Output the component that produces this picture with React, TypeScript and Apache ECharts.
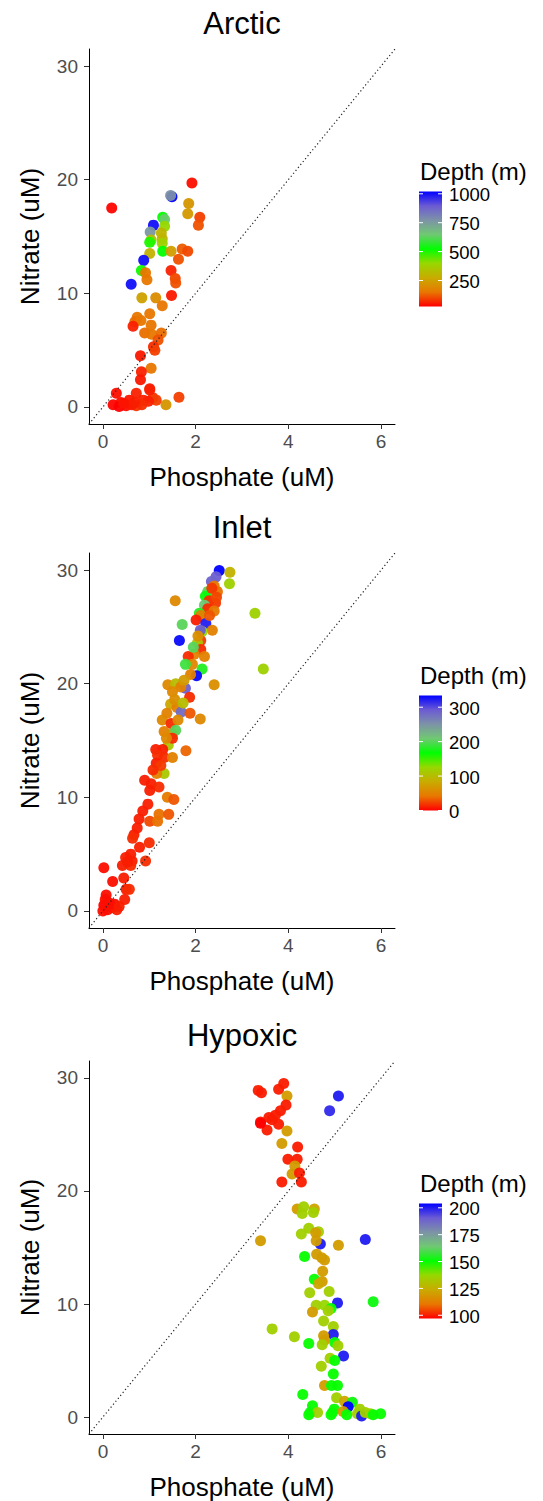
import React, { useEffect, useRef } from "react";
import * as echarts from "echarts";

// ---------------- DATA ----------------
const panelTitles = ["Arctic", "Inlet", "Hypoxic"];

const arcticPhosphate = [1.92, 0.19, 1.49, 1.46, 1.85, 1.83, 2.09, 2.06, 1.29, 1.33, 1.09, 1.02, 1.33, 1.26, 1.04, 1.01, 1.28, 1.28, 1.29, 1.47, 1.71, 1.83, 1.63, 1.01, 0.88, 0.83, 0.92, 0.95, 1.47, 1.56, 1.57, 0.61, 0.84, 1.14, 1.48, 1.28, 1.01, 0.74, 0.69, 0.82, 1.04, 0.65, 0.9, 1.05, 1.26, 1.19, 1.09, 1.12, 0.81, 1.04, 0.83, 0.81, 1.01, 0.29, 0.72, 1.64, 1.08, 1.36, 0.22, 0.39, 0.57, 0.72, 0.87, 1.15, 0.98, 0.5, 0.35, 0.62, 0.84, 1.01, 0.45, 0.68];
const arcticNitrate = [19.7, 17.5, 18.5, 18.6, 17.9, 17.0, 16.7, 16.0, 16.7, 16.5, 16.0, 15.4, 15.9, 15.3, 14.7, 14.5, 14.8, 14.4, 13.7, 13.7, 13.9, 13.7, 13.0, 13.5, 12.9, 12.0, 11.8, 11.2, 12.0, 11.3, 10.9, 10.8, 9.6, 9.6, 9.8, 8.9, 8.2, 7.9, 7.5, 7.6, 7.2, 7.1, 6.5, 6.4, 6.5, 5.9, 5.3, 5.0, 4.5, 3.4, 3.1, 2.4, 1.6, 1.2, 1.2, 0.85, 0.8, 0.2, 0.2, 0.4, 0.6, 0.1, 0.6, 0.6, 0.5, 0.1, 0.05, 0.2, 0.2, 1.5, 0.3, 0.4];
const arcticDepth = [40, 30, 1020, 780, 220, 230, 90, 110, 520, 640, 1000, 760, 400, 300, 330, 500, 300, 380, 520, 240, 120, 100, 110, 290, 1000, 510, 150, 150, 60, 100, 110, 1000, 250, 200, 50, 150, 150, 150, 140, 150, 150, 60, 140, 150, 140, 110, 70, 90, 50, 150, 60, 50, 50, 40, 60, 90, 80, 220, 30, 40, 50, 80, 60, 90, 60, 40, 25, 50, 70, 60, 45, 55];

const inletPhosphate = [2.51, 2.74, 2.73, 2.44, 2.34, 2.26, 2.4, 2.47, 2.21, 1.56, 2.29, 2.43, 2.19, 2.26, 3.28, 2.4, 2.08, 2.11, 2.01, 2.22, 1.71, 2.36, 2.14, 2.1, 1.65, 2.11, 2.04, 2.11, 1.97, 2.19, 3.46, 1.84, 1.93, 1.78, 2.14, 2.02, 1.89, 2.4, 1.4, 1.57, 1.78, 1.68, 1.87, 1.5, 1.46, 1.6, 1.69, 1.88, 2.1, 1.38, 1.28, 1.47, 1.62, 1.32, 1.5, 1.57, 1.41, 1.5, 1.29, 1.14, 1.79, 1.18, 1.32, 1.5, 1.15, 1.32, 1.16, 0.9, 1.04, 1.21, 1.01, 1.39, 1.53, 0.97, 0.86, 1.21, 1.42, 1.01, 1.18, 0.78, 0.74, 0.67, 0.64, 1.0, 0.79, 0.6, 0.49, 0.63, 0.6, 0.53, 0.92, 0.42, 0.02, 0.45, 0.21, 0.5, 0.57, 0.47, 0.07, 0.14, 0.02, 0.1, 0.2, 0.3, 0.25, 0.0, 0.35, 0.05, 2.35, 2.45, 2.3, 2.05, 1.95, 1.75, 1.55, 1.73, 1.37, 1.25, 1.08];
const inletNitrate = [29.95, 29.8, 28.8, 29.4, 29.0, 28.1, 28.6, 28.1, 27.7, 27.3, 27.3, 27.1, 26.9, 26.6, 26.2, 26.4, 26.2, 26.0, 25.6, 25.3, 25.2, 24.7, 24.6, 24.7, 23.8, 23.8, 23.6, 23.0, 22.6, 22.4, 21.3, 22.4, 21.7, 21.7, 21.3, 20.7, 20.8, 19.9, 19.9, 20.0, 19.6, 19.7, 18.8, 19.3, 18.2, 17.9, 17.5, 17.4, 16.9, 17.4, 16.8, 16.5, 16.8, 15.8, 15.6, 15.9, 14.6, 15.2, 14.2, 14.2, 14.1, 13.7, 13.5, 13.5, 13.0, 12.1, 12.1, 11.5, 11.2, 10.9, 10.6, 10.0, 9.8, 9.4, 8.8, 8.5, 8.5, 7.9, 7.9, 8.1, 7.3, 6.7, 6.4, 6.0, 5.6, 5.0, 4.7, 4.4, 4.0, 4.3, 4.4, 4.0, 3.8, 2.9, 2.6, 1.9, 1.9, 1.0, 1.4, 0.7, 0.5, 0.1, 0.3, 0.1, 0.6, 0.0, 0.4, 1.0, 28.4, 27.6, 26.0, 24.2, 23.2, 20.3, 18.6, 18.3, 15.2, 12.8, 12.4];
const inletDepth = [334, 90, 120, 290, 285, 200, 45, 40, 170, 55, 15, 20, 210, 15, 120, 45, 180, 50, 10, 320, 200, 50, 125, 290, 330, 20, 110, 15, 50, 50, 120, 15, 55, 190, 180, 330, 50, 60, 55, 100, 290, 50, 15, 55, 80, 50, 280, 30, 55, 50, 55, 15, 55, 50, 60, 200, 110, 15, 10, 10, 35, 15, 15, 50, 10, 110, 50, 10, 10, 15, 10, 45, 30, 10, 10, 40, 30, 25, 40, 10, 10, 10, 15, 15, 10, 10, 10, 10, 15, 10, 15, 10, 5, 10, 5, 10, 15, 10, 5, 5, 0, 5, 5, 10, 5, 5, 10, 5, 20, 25, 30, 60, 200, 70, 60, 100, 55, 20, 15];

const hypoxicPhosphate = [3.35, 3.42, 3.9, 3.79, 3.97, 5.08, 4.89, 3.95, 3.83, 3.72, 3.58, 3.4, 3.65, 3.79, 3.54, 3.97, 3.86, 4.2, 3.99, 4.19, 4.14, 4.08, 4.24, 3.86, 4.28, 4.19, 4.33, 4.3, 4.56, 4.54, 3.4, 4.44, 4.28, 4.65, 4.59, 4.69, 4.6, 5.08, 5.66, 4.35, 4.61, 4.72, 4.78, 4.74, 4.56, 4.73, 4.65, 4.46, 4.88, 5.06, 5.83, 4.6, 4.78, 4.92, 4.52, 4.86, 4.76, 3.65, 4.13, 4.97, 4.97, 4.76, 4.78, 4.44, 4.73, 5.0, 5.07, 5.19, 4.9, 5.0, 4.71, 4.97, 4.78, 4.93, 5.06, 4.31, 5.04, 5.21, 5.38, 5.29, 4.52, 4.47, 4.63, 4.44, 4.95, 4.99, 5.18, 5.26, 5.49, 5.54, 5.58, 5.66, 5.77, 5.83, 5.99, 4.92, 3.4];
const hypoxicNitrate = [28.9, 28.7, 29.5, 29.0, 28.4, 28.4, 27.1, 27.6, 27.1, 26.7, 26.5, 26.1, 26.3, 25.9, 25.4, 25.3, 24.2, 23.9, 22.8, 22.8, 22.2, 21.5, 21.6, 20.8, 20.8, 18.4, 18.6, 18.0, 18.4, 18.1, 15.6, 16.7, 16.2, 16.4, 16.3, 15.3, 15.6, 15.2, 15.7, 14.2, 14.4, 14.1, 13.9, 12.9, 12.2, 12.0, 11.8, 11.0, 11.1, 10.1, 10.2, 9.9, 9.9, 9.6, 9.3, 9.4, 8.5, 7.8, 7.1, 8.0, 7.3, 7.2, 6.8, 6.5, 6.4, 6.6, 6.3, 5.4, 5.2, 5.0, 4.5, 3.8, 2.8, 2.8, 2.8, 2.0, 1.7, 1.4, 1.3, 0.9, 1.0, 0.4, 0.4, 0.2, 0.4, 0.7, 0.5, 0.2, 0.3, 0.7, 0.1, 0.4, 0.3, 0.2, 0.3, 0.2, 26.0];
const hypoxicDepth = [100, 100, 100, 100, 120, 200, 198, 100, 100, 100, 100, 100, 100, 100, 100, 120, 120, 100, 100, 100, 120, 120, 100, 100, 100, 120, 135, 135, 122, 135, 120, 135, 135, 135, 120, 200, 120, 120, 200, 150, 120, 120, 120, 120, 150, 120, 122, 135, 135, 200, 152, 135, 137, 150, 120, 135, 135, 135, 135, 135, 200, 120, 120, 150, 135, 150, 135, 200, 135, 150, 135, 150, 120, 150, 150, 150, 135, 122, 152, 204, 150, 152, 135, 150, 150, 150, 120, 150, 135, 135, 200, 135, 135, 150, 150, 150, 97];

const depthTicks = [
  [250, 500, 750, 1000],
  [0, 100, 200, 300],
  [100, 125, 150, 175, 200],
];
const xTicks = [0, 2, 4, 6];
const yTicks = [0, 10, 20, 30];
const xRange = [-0.3, 6.3];
const yRange = [-1.5, 31.5];
const referenceSlope = 5; // dotted reference line: Nitrate = 5 x Phosphate

// red -> green -> blue, interpolated in Lab space
const gradientColors = ["#ff0000", "#e87700", "#c9ab00", "#98d700", "#00ff00", "#6fc972", "#7d93a6", "#6c5bd3", "#0000ff"];

// ---------------- LAYOUT ----------------
const W = 543;
const H = 1501;
const plotLeft = 89;
const plotWidth = 306;
const plotHeight = 375;
const plotTops = [49, 553, 1061];
const FONT = "'Liberation Sans', Arial, Helvetica, sans-serif";

const panels = [
  { x: arcticPhosphate, y: arcticNitrate, d: arcticDepth },
  { x: inletPhosphate, y: inletNitrate, d: inletDepth },
  { x: hypoxicPhosphate, y: hypoxicNitrate, d: hypoxicDepth },
];

export default function App() {
  const ref = useRef<HTMLDivElement>(null);

  useEffect(() => {
    if (!ref.current) return;
    const chart = echarts.init(ref.current, null, { renderer: "svg" });

    const grid: any[] = [];
    const xAxis: any[] = [];
    const yAxis: any[] = [];
    const series: any[] = [];
    const lineSeries: any[] = [];
    const visualMap: any[] = [];
    const graphic: any[] = [];

    panels.forEach((p, i) => {
      const top = plotTops[i];
      grid.push({ left: plotLeft, top, width: plotWidth, height: plotHeight, containLabel: false });
      xAxis.push({
        type: "value",
        gridIndex: i,
        min: xRange[0],
        max: xRange[1],
        name: "Phosphate (uM)",
        nameLocation: "middle",
        nameGap: 40,
        nameTextStyle: { fontSize: 26, color: "#000", fontFamily: FONT },
        axisLine: { show: true, onZero: false, lineStyle: { color: "#000", width: 1 } },
        axisTick: { show: true, length: 5, customValues: xTicks, lineStyle: { color: "#333" } },
        axisLabel: { customValues: xTicks, color: "#4d4d4d", fontSize: 19, margin: 8, fontFamily: FONT },
        splitLine: { show: false },
      });
      yAxis.push({
        type: "value",
        gridIndex: i,
        min: yRange[0],
        max: yRange[1],
        name: "Nitrate (uM)",
        nameLocation: "middle",
        nameRotate: 90,
        nameGap: 46,
        nameTextStyle: { fontSize: 26, color: "#000", fontFamily: FONT },
        axisLine: { show: true, onZero: false, lineStyle: { color: "#000", width: 1 } },
        axisTick: { show: true, length: 5, customValues: yTicks, lineStyle: { color: "#333" } },
        axisLabel: { customValues: yTicks, color: "#4d4d4d", fontSize: 19, margin: 11, fontFamily: FONT },
        splitLine: { show: false },
      });

      const data = p.x.map((xv, k) => [xv, p.y[k], p.d[k]]);
      series.push({
        type: "scatter",
        name: panelTitles[i],
        xAxisIndex: i,
        yAxisIndex: i,
        symbolSize: 11,
        itemStyle: { opacity: 0.95 },
        data,
      });
      lineSeries.push({
        type: "line",
        xAxisIndex: i,
        yAxisIndex: i,
        silent: true,
        symbol: "none",
        z: 5,
        lineStyle: { color: "#222", width: 1.2, type: [1.2, 2.6] },
        data: [
          [xRange[0], referenceSlope * xRange[0]],
          [xRange[1], referenceSlope * xRange[1]],
        ],
      });

      const dMin = Math.min(...p.d);
      const dMax = Math.max(...p.d);
      visualMap.push({
        type: "continuous",
        show: false,
        seriesIndex: i,
        dimension: 2,
        min: dMin,
        max: dMax,
        inRange: { color: gradientColors },
      });

      // panel title
      graphic.push({
        type: "text",
        x: plotLeft + plotWidth / 2,
        y: top - 26,
        style: { text: panelTitles[i], fill: "#000", font: `31px ${FONT}`, align: "center", verticalAlign: "middle" },
      });

      // colour bar legend
      const barX = 419;
      const barW = 23;
      const barH = 115;
      const barTop = top + plotHeight / 2 - 45;
      graphic.push({
        type: "text",
        x: 420,
        y: barTop - 20,
        style: { text: "Depth (m)", fill: "#000", font: `24px ${FONT}`, align: "left", verticalAlign: "middle" },
      });
      graphic.push({
        type: "rect",
        shape: { x: barX, y: barTop, width: barW, height: barH },
        style: {
          fill: new echarts.graphic.LinearGradient(
            0, 1, 0, 0,
            gradientColors.map((c, k) => ({ offset: k / (gradientColors.length - 1), color: c }))
          ),
        },
      });
      depthTicks[i].forEach((v) => {
        const yy = barTop + barH * (1 - (v - dMin) / (dMax - dMin));
        graphic.push({
          type: "line",
          shape: { x1: barX, y1: yy, x2: barX + 4, y2: yy },
          style: { stroke: "#fff", lineWidth: 1 },
        });
        graphic.push({
          type: "line",
          shape: { x1: barX + barW - 4, y1: yy, x2: barX + barW, y2: yy },
          style: { stroke: "#fff", lineWidth: 1 },
        });
        graphic.push({
          type: "text",
          x: 449,
          y: yy + 1,
          style: { text: String(v), fill: "#000", font: `18.5px ${FONT}`, align: "left", verticalAlign: "middle" },
        });
      });
    });

    chart.setOption({
      animation: false,
      backgroundColor: "#fff",
      textStyle: { fontFamily: FONT },
      grid,
      xAxis,
      yAxis,
      visualMap,
      series: [...series, ...lineSeries],
      graphic,
    });

    return () => chart.dispose();
  }, []);

  return (
    <div
      ref={ref}
      style={{ position: "absolute", left: 0, top: 0, width: W, height: H, background: "#fff" }}
    />
  );
}
